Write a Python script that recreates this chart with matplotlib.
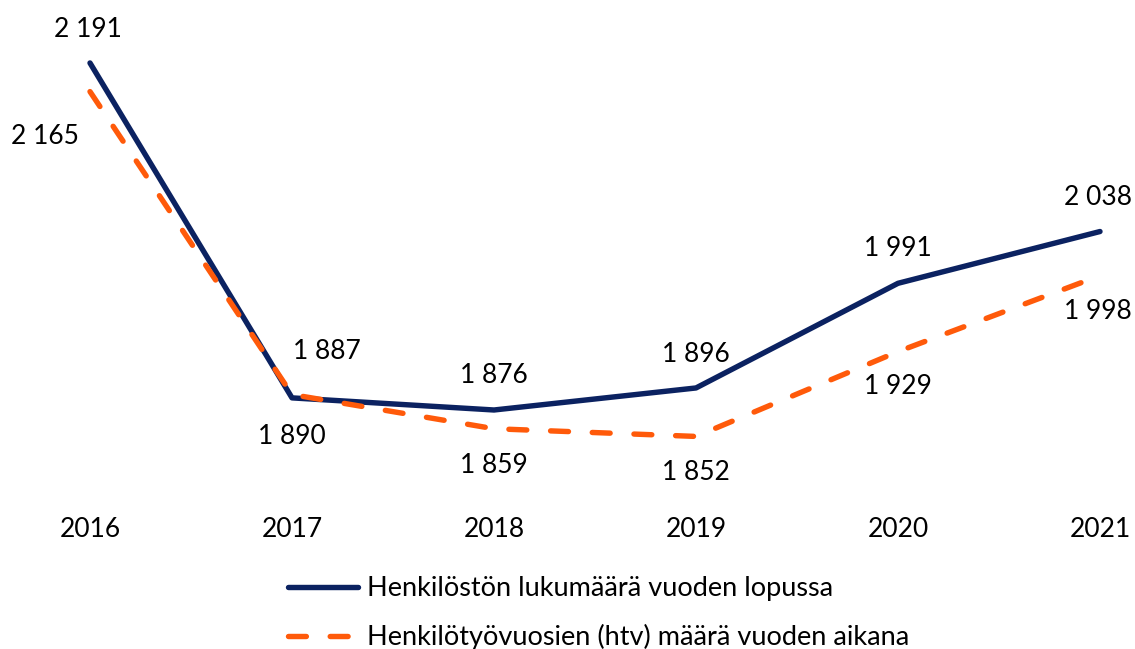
import matplotlib.pyplot as plt
import numpy as np

plt.rcParams['font.family'] = ['Lato', 'DejaVu Sans']

years = ['2016', '2017', '2018', '2019', '2020', '2021']
henkilosto = [2191, 1887, 1876, 1896, 1991, 2038]
htv = [2165, 1890, 1859, 1852, 1929, 1998]
labels = ['Henkilöstön lukumäärä vuoden lopussa',
          'Henkilötyövuosien (htv) määrä vuoden aikana']

navy = '#0b2261'
orange = '#ff5a0a'

# label offsets in pixels (dx, dy)
off_solid = [(-2, 33), (35, 46), (0, 34), (0, 33), (0, 35), (-2, 34)]
off_dash = [(-45, -45), (0, -42), (0, -37), (0, -36), (0, -35), (-2, -36)]


def fmt(v):
    return '{:,}'.format(v).replace(',', ' ')


fig = plt.figure(figsize=(11.35, 6.49), dpi=100)
ax = fig.add_axes([90/1135, 1 - 500/649, 1010/1135, 480/649])

x = np.arange(len(years))
ax.plot(x, henkilosto, color=navy, lw=3.9, solid_capstyle='round',
        solid_joinstyle='round', label=labels[0], clip_on=False)
ax.plot(x, htv, color=orange, lw=3.9, dashes=(3.3, 4.4),
        dash_capstyle='round', label=labels[1], clip_on=False)

ax.set_xlim(0, 5)
ax.set_ylim(1794.3, 2230)

for xi, v, o in zip(x, henkilosto, off_solid):
    ax.annotate(fmt(v), (xi, v), xytext=(o[0]*0.72, o[1]*0.72),
                textcoords='offset points', ha='center', va='center',
                fontsize=19, color='black', annotation_clip=False)
for xi, v, o in zip(x, htv, off_dash):
    ax.annotate(fmt(v), (xi, v), xytext=(o[0]*0.72, o[1]*0.72),
                textcoords='offset points', ha='center', va='center',
                fontsize=19, color='black', annotation_clip=False)

ax.set_xticks(x)
ax.set_xticklabels(years, fontsize=19)
ax.set_yticks([])
ax.tick_params(axis='x', length=0, pad=12)
for s in ax.spines.values():
    s.set_visible(False)

fig.legend(loc='upper left', bbox_to_anchor=(288/1135, 1 - 576/649),
           frameon=False, fontsize=19.5, borderpad=0, borderaxespad=0,
           handlelength=2.6, handletextpad=0.3, labelspacing=0.85)

fig.savefig('out.png', dpi=100)
